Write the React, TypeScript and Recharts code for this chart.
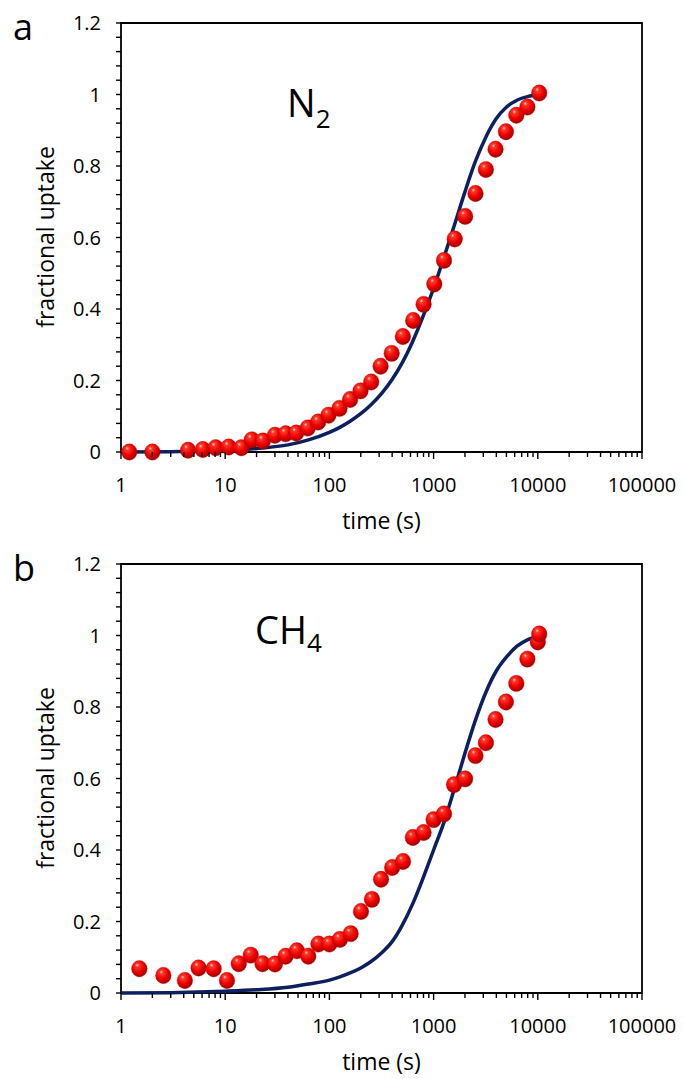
import React from 'react';
import { ComposedChart, Line, Scatter, XAxis, YAxis, ReferenceArea } from 'recharts';

const FONT = '"Open Sans", "Liberation Sans", sans-serif';

// ---------- axis ticks ----------
const xMajorTicks = [1, 10, 100, 1000, 10000, 100000];
const xTickLabels = ['1', '10', '100', '1000', '10000', '100000'];
const xAllTicks = [
  1, 2, 3, 4, 5, 6, 7, 8, 9,
  10, 20, 30, 40, 50, 60, 70, 80, 90,
  100, 200, 300, 400, 500, 600, 700, 800, 900,
  1000, 2000, 3000, 4000, 5000, 6000, 7000, 8000, 9000,
  10000, 20000, 30000, 40000, 50000, 60000, 70000, 80000, 90000,
  100000,
];
const yMajorTicks = [0, 0.2, 0.4, 0.6, 0.8, 1, 1.2];
const yTickLabels = ['0', '0.2', '0.4', '0.6', '0.8', '1', '1.2'];
const yAllTicks = [
  0, 0.04, 0.08, 0.12, 0.16, 0.2, 0.24, 0.28, 0.32, 0.36, 0.4, 0.44, 0.48, 0.52, 0.56, 0.6,
  0.64, 0.68, 0.72, 0.76, 0.8, 0.84, 0.88, 0.92, 0.96, 1, 1.04, 1.08, 1.12, 1.16, 1.2,
];

// ---------- (a) N2 ----------
const n2Time = [1.2, 2.0, 4.4, 6.1, 8.1, 10.8, 14.3, 18, 23, 30, 38, 48, 62, 78, 98, 125, 158, 199, 252, 310, 396, 507, 637, 802, 1016, 1259, 1596, 2006, 2523, 3177, 3930, 4943, 6223, 7946, 10320];
const n2Uptake = [0, 0, 0.005, 0.007, 0.012, 0.014, 0.012, 0.034, 0.031, 0.047, 0.051, 0.053, 0.067, 0.084, 0.103, 0.122, 0.147, 0.171, 0.196, 0.24, 0.276, 0.323, 0.368, 0.413, 0.47, 0.536, 0.596, 0.659, 0.723, 0.79, 0.847, 0.896, 0.942, 0.965, 1.004];
const n2FitTime = [1, 3, 10, 20, 40, 63, 100, 126, 158, 200, 251, 316, 398, 501, 631, 794, 1000, 1259, 1585, 1995, 2512, 3162, 3981, 5012, 6310, 7943, 9000];
const n2FitUptake = [0, 0.001, 0.004, 0.01, 0.02, 0.034, 0.055, 0.069, 0.086, 0.107, 0.132, 0.163, 0.202, 0.25, 0.31, 0.38, 0.458, 0.545, 0.635, 0.727, 0.812, 0.88, 0.932, 0.965, 0.984, 0.994, 0.997];

// ---------- (b) CH4 ----------
const ch4Time = [1.5, 2.55, 4.1, 5.55, 7.75, 10.4, 13.5, 17.6, 22.8, 30, 38, 48.7, 62.7, 78.5, 100, 126, 160, 201, 256, 313, 400, 509, 632, 802, 1000, 1259, 1570, 2006, 2523, 3177, 3930, 4943, 6223, 7946, 10000, 10320];
const ch4Uptake = [0.068, 0.049, 0.035, 0.07, 0.068, 0.035, 0.082, 0.106, 0.082, 0.081, 0.103, 0.118, 0.103, 0.137, 0.137, 0.15, 0.166, 0.228, 0.262, 0.318, 0.351, 0.368, 0.435, 0.449, 0.485, 0.501, 0.583, 0.599, 0.664, 0.7, 0.765, 0.814, 0.866, 0.934, 0.982, 1.004];
const ch4FitTime = [1, 3, 10, 20, 40, 63, 100, 126, 158, 200, 251, 316, 398, 501, 631, 794, 1000, 1259, 1585, 1995, 2512, 3162, 3981, 5012, 6310, 7943, 9000];
const ch4FitUptake = [0, 0.001, 0.005, 0.009, 0.016, 0.025, 0.036, 0.045, 0.056, 0.07, 0.088, 0.112, 0.143, 0.19, 0.25, 0.322, 0.4, 0.478, 0.572, 0.67, 0.762, 0.84, 0.9, 0.94, 0.97, 0.988, 0.994];

const XTick = (props: any) => {
  const { x, y, payload } = props;
  const idx = xMajorTicks.indexOf(payload.value);
  const major = idx >= 0;
  return (
    <g>
      <line x1={x} y1={y} x2={x} y2={y + (major ? 7 : 5)} stroke="#000" strokeWidth={1.4} />
      {major && (
        <text x={x} y={y + 40} textAnchor="middle" fontFamily={FONT} fontSize={20} fill="#000">
          {xTickLabels[idx]}
        </text>
      )}
    </g>
  );
};

const YTick = (props: any) => {
  const { x, y, payload } = props;
  const idx = yMajorTicks.indexOf(payload.value);
  const major = idx >= 0;
  return (
    <g>
      <line x1={x - 5} y1={y} x2={x} y2={y} stroke="#000" strokeWidth={1.4} />
      {major && (
        <text x={x - 20} y={y + 7} textAnchor="end" fontFamily={FONT} fontSize={20} fill="#000">
          {yTickLabels[idx]}
        </text>
      )}
    </g>
  );
};

const Ball = (props: any) => {
  const { cx, cy } = props;
  if (cx == null || cy == null) return null;
  return (
    <ellipse cx={cx} cy={cy} rx={7.8} ry={8.2} fill="url(#ballGrad)" stroke="#b00000" strokeWidth={0.6} strokeOpacity={0.6} />
  );
};

function Panel(props: { fitT: number[]; fitF: number[]; ptT: number[]; ptF: number[] }) {
  const { fitT, fitF, ptT, ptF } = props;
  const fit = fitT.map((t, i) => ({ t, f: fitF[i] }));
  const pts = ptT.map((t, i) => ({ t, f: ptF[i] }));
  return (
    <ComposedChart width={684} height={538} margin={{ top: 23, right: 42, bottom: 26, left: 61 }}>
      <XAxis
        dataKey="t"
        type="number"
        scale="log"
        domain={[1, 100000]}
        ticks={xAllTicks}
        interval={0}
        tick={<XTick />}
        tickLine={false}
        axisLine={false}
        tickSize={0}
        tickMargin={0}
        height={60}
      />
      <YAxis
        dataKey="f"
        type="number"
        domain={[0, 1.2]}
        ticks={yAllTicks}
        interval={0}
        tick={<YTick />}
        tickLine={false}
        axisLine={false}
        tickSize={0}
        tickMargin={0}
        width={60}
      />
      <ReferenceArea x1={1} x2={100000} y1={0} y2={1.2} fill="none" fillOpacity={0} stroke="#000" strokeWidth={1.8} ifOverflow="visible" />
      <Line data={fit} dataKey="f" type="monotone" stroke="#0c1f5e" strokeWidth={3.5} dot={false} activeDot={false} isAnimationActive={false} />
      <Scatter data={pts} dataKey="f" shape={Ball} isAnimationActive={false} />
    </ComposedChart>
  );
}

export default function App() {
  return (
    <div style={{ position: 'absolute', left: 0, top: 0, width: 684, height: 1079, overflow: 'hidden', background: '#fff' }}>
      <div style={{ position: 'absolute', left: 0, top: 0 }}>
        <Panel fitT={n2FitTime} fitF={n2FitUptake} ptT={n2Time} ptF={n2Uptake} />
      </div>
      <div style={{ position: 'absolute', left: 0, top: 541 }}>
        <Panel fitT={ch4FitTime} fitF={ch4FitUptake} ptT={ch4Time} ptF={ch4Uptake} />
      </div>
      <svg width={684} height={1079} style={{ position: 'absolute', left: 0, top: 0, pointerEvents: 'none' }}>
        <defs>
          <radialGradient id="ballGrad" cx="0.42" cy="0.38" r="0.62" fx="0.36" fy="0.28">
            <stop offset="0" stopColor="#ffd6cc" />
            <stop offset="0.18" stopColor="#ff3a2a" />
            <stop offset="0.6" stopColor="#ee0000" />
            <stop offset="1" stopColor="#a30000" />
          </radialGradient>
        </defs>
        <g fontFamily={FONT} fill="#000">
          <text x={13} y={40} fontSize={36}>a</text>
          <text x={13} y={581} fontSize={36}>b</text>
          <text x={287} y={117} fontSize={38}>
            N<tspan fontSize={26} dy={11}>2</tspan>
          </text>
          <text x={255} y={643.5} fontSize={38}>
            CH<tspan fontSize={26} dy={8.5}>4</tspan>
          </text>
          <text x={381.5} y={529} fontSize={23} textAnchor="middle">time (s)</text>
          <text x={381.5} y={1070} fontSize={23} textAnchor="middle">time (s)</text>
          <text x={54} y={237} fontSize={23} textAnchor="middle" transform="rotate(-90 54 237)">fractional uptake</text>
          <text x={54} y={778} fontSize={23} textAnchor="middle" transform="rotate(-90 54 778)">fractional uptake</text>
        </g>
      </svg>
    </div>
  );
}
